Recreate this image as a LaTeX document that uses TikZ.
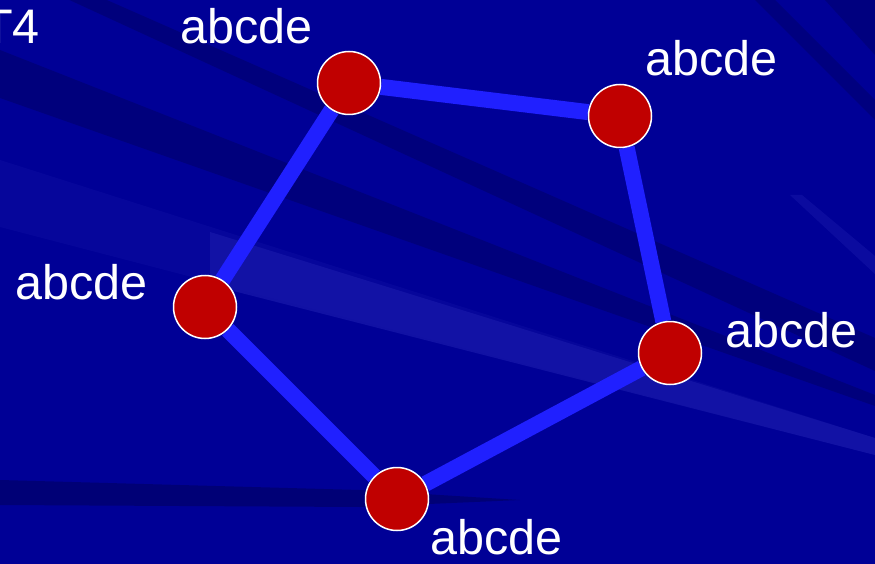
\documentclass[tikz,border=0pt]{standalone}
\usepackage{fontspec}
\setmainfont{Liberation Sans}
\usetikzlibrary{positioning}

\definecolor{slidebg}{RGB}{0,0,150}
\definecolor{streakdark}{RGB}{0,0,118}
\definecolor{streaklight}{RGB}{22,22,168}
\definecolor{ringblue}{RGB}{32,32,255}
\definecolor{dotred}{RGB}{192,0,0}

\pgfdeclarelayer{background}
\pgfsetlayers{background,main}

\tikzset{
  dot/.style={circle, fill=dotred, draw=white, line width=1.5pt, minimum size=63pt, inner sep=0pt},
  tag/.style={text=white, font=\fontsize{48.5}{52}\selectfont, inner sep=0pt, anchor=base west},
  link/.style={draw=ringblue, line width=16pt},
}

\begin{document}
\begin{tikzpicture}[x=1pt, y=-1pt]
    \useasboundingbox (0,0) rectangle (875,564);

    % ring of dots
    \node[dot] (top)      at (349,83)  {};
    \node[dot] (topright) at (620,116) {};
    \node[dot] (left)     at (205,307) {};
    \node[dot] (right)    at (670,353) {};
    \node[dot] (bottom)   at (397,499) {};

    \node[tag] (ttop)      at (180,44)  {abcde};
    \node[tag] (ttopright) at (645,76)  {abcde};
    \node[tag] (tleft)     at (15,299)  {abcde};
    \node[tag] (tright)    at (725,347) {abcde};
    \node[tag] (tbottom)   at (430,554) {abcde};
    \node[tag] (title)     at (-17,44)  {T4};

    \begin{pgfonlayer}{background}
        % slide background with streaks
        \fill[slidebg] (0,0) rectangle (875,564);
        \begin{scope}
            \clip (0,0) rectangle (875,564);
            \fill[streakdark, fill opacity=0.8] (0,-47) -- (875,338) -- (875,371) -- (0,-32) -- cycle;
            \fill[streakdark, fill opacity=0.8] (0,50) -- (875,395) -- (875,406) -- (0,98) -- cycle;
            \fill[streakdark] (0,480) -- (360,490) -- (520,500) -- (360,507) -- (0,505) -- cycle;
            \fill[streakdark, fill opacity=0.7] (755,0) -- (775,0) -- (875,100) -- (875,120) -- cycle;
            \fill[streakdark, fill opacity=0.7] (825,0) -- (875,0) -- (875,55) -- cycle;
            \fill[streaklight, fill opacity=0.3] (0,160) -- (875,438) -- (875,455) -- (0,227) -- cycle;
            \fill[streaklight, fill opacity=0.8] (210,232) -- (875,438) -- (875,455) -- (210,285) -- cycle;
            \fill[streaklight, fill opacity=0.5] (790,195) -- (802,195) -- (875,256) -- (875,274) -- cycle;
        \end{scope}

        \path[link] (top) -- (topright)
                    (topright) -- (right)
                    (right) -- (bottom)
                    (bottom) -- (left)
                    (left) -- (top);
    \end{pgfonlayer}
\end{tikzpicture}
\end{document}
